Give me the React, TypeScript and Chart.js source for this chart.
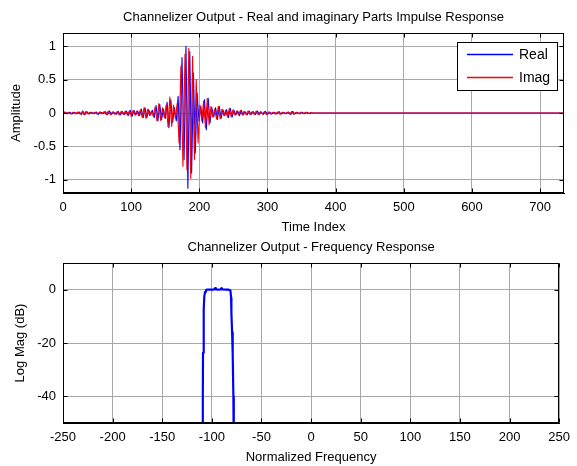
import React, { useEffect, useRef } from "react";
import { Chart, registerables } from "chart.js";

Chart.register(...registerables);

const FONT_FAMILY = "'Liberation Sans', Arial, sans-serif";

// ---------- Top subplot: impulse response ----------
const topTitle = "Channelizer Output - Real and imaginary Parts Impulse Response";
const timeTicks = [0, 100, 200, 300, 400, 500, 600, 700];
const ampTicks = [-1, -0.5, 0, 0.5, 1];

const realT = [
  0, 3, 6, 10, 13, 17, 20, 24, 27, 29, 32, 35, 38, 42, 45, 49, 52, 55, 59, 62, 65, 68, 71, 74, 78, 81, 84, 87, 90, 93, 96,
  98.7, 101.4, 104.1, 106.8, 109.5, 112.2, 114.9, 117.6, 120.3, 123.0, 125.7, 128.4, 131.1, 133.8, 136.5, 139.2, 141.9, 144.6, 147.3, 150.0, 152.7, 155.4, 158.1, 160.8, 163.5,
  166.2, 168.9, 171.6, 174.6, 177.6, 180.4, 183.2, 186.0, 188.7, 191.4, 194.1, 196.8, 199.5, 202.2,
  204.9, 207.6, 210.3, 213.0, 215.7, 218.4, 221.1, 223.8, 226.5, 229.2, 231.9, 234.6, 237.3, 240.0, 242.7, 245.4, 248.1, 250.8, 253.5, 256.2,
  258.9, 261.6, 264.3, 267, 270, 273, 276, 279, 282, 285, 288, 291, 294, 297, 300, 303, 306, 310, 313, 317,
  320, 324, 327, 331, 334, 337, 340, 344, 347, 351, 354, 358, 361, 365, 366, 735,
];
const realV = [
  0, 0.015, -0.01, 0.012, -0.015, 0.01, -0.012, 0.015, -0.02, 0.03, -0.025, 0.02, -0.015, 0.012, -0.01, 0.015, -0.02, 0.015, -0.012, 0.02, -0.025, 0.03, -0.02, 0.015, -0.02, 0.025, -0.03, 0.02, -0.025, 0.03, -0.035,
  0.04, -0.05, 0.04, -0.03, 0.03, -0.04, 0.06, -0.07, 0.08, -0.07, 0.05, -0.03, 0.04, -0.07, 0.11, -0.12, 0.13, -0.1, 0.06, -0.08, 0.16, -0.22, 0.2, -0.14, 0.08,
  -0.12, 0.25, -0.55, 0.83, -0.7, 1.0, -1.13, 0.92, -0.9, 0.6, -0.6, 0.3, -0.12, 0.1,
  -0.15, 0.2, -0.25, 0.22, -0.15, 0.08, -0.06, 0.08, -0.1, 0.1, -0.08, 0.05, -0.04, 0.05, -0.07, 0.07, -0.06, 0.04, -0.03, 0.03,
  -0.04, 0.04, -0.03, 0.02, -0.03, 0.03, -0.02, 0.02, -0.025, 0.03, -0.02, 0.015, -0.02, 0.025, -0.02, 0.015, -0.015, 0.012, -0.015, 0.02,
  -0.015, 0.01, -0.012, 0.015, -0.02, 0.025, -0.015, 0.01, -0.012, 0.01, -0.01, 0.012, -0.01, 0.005, 0, 0,
];

const imagT = [
  0, 1.5, 4.5, 7.5, 11.5, 14.5, 18.5, 21.5, 25.5, 28.5, 30.5, 33.5, 36.5, 39.5, 43.5, 46.5, 50.5, 53.5, 56.5, 60.5, 63.5, 66.5, 69.5, 72.5, 75.5, 79.5, 82.5, 85.5, 88.5, 91.5, 94.5, 97.4,
  100.05, 102.75, 105.45, 108.15, 110.85, 113.55, 116.25, 118.95, 121.65, 124.35, 127.05, 129.75, 132.45, 135.15, 137.85, 140.55, 143.25, 145.95, 148.65, 151.35, 154.05, 156.75, 159.45, 162.15, 164.85,
  167.55, 170.25, 172.95, 175.95, 178.95, 181.75, 184.55, 187.35, 190.05, 192.75, 195.45, 198.15, 200.85,
  203.55, 206.25, 208.95, 211.65, 214.35, 217.05, 219.75, 222.45, 225.15, 227.85, 230.55, 233.25, 235.95, 238.65, 241.35, 244.05, 246.75, 249.45, 252.15, 254.85,
  257.55, 260.25, 262.95, 265.65, 268.5, 271.5, 274.5, 277.5, 280.5, 283.5, 286.5, 289.5, 292.5, 295.5, 298.5, 301.5, 304.5, 308, 311.5, 315,
  318.5, 322, 325.5, 329, 332.5, 335.5, 338.5, 342, 345.5, 349, 352.5, 356, 359.5, 363, 366, 735,
];
const imagV = [
  0, 0.01, -0.012, 0.01, -0.015, 0.012, -0.012, 0.015, -0.018, 0.025, -0.025, 0.02, -0.015, 0.012, -0.012, 0.012, -0.018, 0.015, -0.012, 0.018, -0.025, 0.028, -0.025, 0.018, -0.018, 0.022, -0.028, 0.025, -0.022, 0.028, -0.032, 0.035,
  -0.05, 0.04, -0.03, 0.03, -0.04, 0.05, -0.07, 0.08, -0.08, 0.06, -0.04, 0.03, -0.05, 0.09, -0.12, 0.14, -0.11, 0.08, -0.07, 0.12, -0.2, 0.24, -0.2, 0.12, -0.08,
  0.15, -0.45, 0.7, -0.8, 0.88, -0.85, 0.97, -0.98, 0.85, -0.7, 0.5, -0.45, 0.12,
  -0.12, 0.18, -0.22, 0.22, -0.18, 0.1, -0.06, 0.06, -0.09, 0.1, -0.09, 0.06, -0.04, 0.04, -0.06, 0.07, -0.06, 0.05, -0.03, 0.03,
  -0.03, 0.04, -0.03, 0.025, -0.02, 0.03, -0.025, 0.02, -0.02, 0.03, -0.025, 0.02, -0.015, 0.02, -0.025, 0.015, -0.015, 0.012, -0.015, 0.015,
  -0.02, 0.012, -0.01, 0.012, -0.015, 0.02, -0.02, 0.012, -0.01, 0.01, -0.012, 0.01, -0.01, 0.008, 0, 0,
];

// ---------- Bottom subplot: frequency response ----------
const bottomTitle = "Channelizer Output - Frequency Response";
const freqTicks = [-250, -200, -150, -100, -50, 0, 50, 100, 150, 200, 250];
const magTicks = [-40, -20, 0];
const freqX = [-109.4, -109.1, -108.9, -108.2, -107.6, -106.8, -105.9, -105.3, -102, -99, -97.5, -96.7, -96, -94, -91, -90.2, -89.4, -86, -83, -81.3, -80.6, -80.3, -79.6, -79.0, -78.3, -77.9];
const magDb = [-60, -40, -23.7, -7.5, -2.5, -0.8, -0.25, 0, 0, 0, 0.1, 0.6, 0.1, 0, 0.1, 0.6, 0.1, 0, 0, -0.3, -3, -8.7, -16, -24, -40, -60];

const W = 577;
const TOP_H = 236;
const BOT_H = 230;
const PLOT_LEFT = 63;
const PLOT_RIGHT = 564;
const GRID = "#a8a8a8";

const font = { family: FONT_FAMILY, size: 13, weight: "normal" as const };

const boxPlugin = {
  id: "matlabBox",
  afterDraw(chart: any) {
    const { ctx, chartArea: a, scales } = chart;
    const L = Math.round(a.left) + 0.5;
    const R = Math.round(a.right) - 0.5;
    const T = Math.round(a.top) + 0.5;
    const B = Math.round(a.bottom) - 0.5;
    ctx.save();
    ctx.strokeStyle = "#000";
    ctx.lineWidth = 1;
    ctx.strokeRect(L, T, R - L, B - T);
    const len = 4;
    ctx.beginPath();
    for (const t of scales.x.ticks) {
      const px = Math.round(scales.x.getPixelForValue(t.value)) + 0.5;
      ctx.moveTo(px, B);
      ctx.lineTo(px, B - len);
      ctx.moveTo(px, T);
      ctx.lineTo(px, T + len);
    }
    for (const t of scales.y.ticks) {
      const py = Math.round(scales.y.getPixelForValue(t.value)) + 0.5;
      ctx.moveTo(L, py);
      ctx.lineTo(L + len, py);
      ctx.moveTo(R, py);
      ctx.lineTo(R - len, py);
    }
    ctx.stroke();
    ctx.restore();
  },
};

const legendPlugin = {
  id: "boxLegend",
  afterDraw(chart: any) {
    const { ctx } = chart;
    const x0 = 457.5, y0 = 42.5, w = 100, h = 48;
    ctx.save();
    ctx.fillStyle = "#ffffff";
    ctx.fillRect(x0, y0, w, h);
    ctx.strokeStyle = "#000000";
    ctx.lineWidth = 1;
    ctx.strokeRect(x0, y0, w, h);
    const items = [
      { label: "Real", color: "#0000ff", y: 54.5 },
      { label: "Imag", color: "#ff0000", y: 77.5 },
    ];
    ctx.font = `14px ${FONT_FAMILY}`;
    ctx.textBaseline = "middle";
    ctx.textAlign = "left";
    for (const it of items) {
      ctx.beginPath();
      ctx.strokeStyle = it.color;
      ctx.lineWidth = 1.5;
      ctx.moveTo(467, it.y);
      ctx.lineTo(513, it.y);
      ctx.stroke();
      ctx.fillStyle = "#000000";
      ctx.fillText(it.label, 519, it.y + 1);
    }
    ctx.restore();
  },
};

function axis(
  min: number,
  max: number,
  ticks: number[],
  title: string,
  isX: boolean,
  size: number,
  titlePad: any
) {
  return {
    type: "linear",
    min,
    max,
    afterBuildTicks: (s: any) => {
      s.ticks = ticks.map((v) => ({ value: v }));
    },
    afterFit: (s: any) => {
      if (isX) s.height = size;
      else s.width = size;
    },
    grid: { color: GRID, lineWidth: 1, drawTicks: false },
    border: { display: true, color: "#000", width: 1 },
    ticks: {
      color: "#000",
      font,
      padding: 7,
      maxRotation: 0,
      autoSkip: false,
      callback: (v: any) => String(v),
    },
    title: { display: true, text: title, color: "#000", font, padding: titlePad },
  };
}

function ChartCanvas({ config, top, height }: { config: any; top: number; height: number }) {
  const ref = useRef<HTMLCanvasElement>(null);
  useEffect(() => {
    const chart = new Chart(ref.current as HTMLCanvasElement, config);
    return () => chart.destroy();
  }, []);
  return (
    <canvas
      ref={ref}
      width={W}
      height={height}
      style={{ position: "absolute", left: 0, top, width: W, height }}
    />
  );
}

const topConfig: any = {
  type: "line",
  data: {
    datasets: [
      {
        label: "Real",
        data: realT.map((t, i) => ({ x: t, y: realV[i] })),
        borderColor: "#0000ff",
        borderWidth: 1.1,
        pointRadius: 0,
        borderJoinStyle: "round",
        order: 1,
      },
      {
        label: "Imag",
        data: imagT.map((t, i) => ({ x: t, y: imagV[i] })),
        borderColor: "#ff0000",
        borderWidth: 1.1,
        pointRadius: 0,
        borderJoinStyle: "round",
        order: 0,
      },
    ],
  },
  options: {
    animation: false,
    responsive: false,
    events: [],
    layout: { padding: { left: 0, right: W - PLOT_RIGHT, top: 0, bottom: 0 } },
    plugins: {
      legend: { display: false },
      tooltip: { enabled: false },
      title: {
        display: true,
        fullSize: false,
        text: topTitle,
        color: "#000",
        font,
        padding: { top: 9.2, bottom: 8.2 },
      },
    },
    scales: {
      x: axis(0, 735, timeTicks, "Time Index", true, TOP_H - 193, { top: 0, bottom: 1.2 }),
      y: axis(-1.2, 1.2, ampTicks, "Amplitude", false, PLOT_LEFT, { top: 8.2, bottom: 0 }),
    },
  },
  plugins: [boxPlugin, legendPlugin],
};

const bottomConfig: any = {
  type: "line",
  data: {
    datasets: [
      {
        label: "Mag",
        data: freqX.map((f, i) => ({ x: f, y: magDb[i] })),
        borderColor: "#0000ff",
        borderWidth: 2.2,
        pointRadius: 0,
        borderJoinStyle: "round",
      },
    ],
  },
  options: {
    animation: false,
    responsive: false,
    events: [],
    layout: { padding: { left: 0, right: W - PLOT_RIGHT, top: 0, bottom: 0 } },
    plugins: {
      legend: { display: false },
      tooltip: { enabled: false },
      title: {
        display: true,
        fullSize: false,
        text: bottomTitle,
        color: "#000",
        font,
        padding: { top: 3.2, bottom: 8.2 },
      },
    },
    scales: {
      x: axis(-250, 250, freqTicks, "Normalized Frequency", true, BOT_H - 187, { top: 0, bottom: 1.2 }),
      y: axis(-50, 10, magTicks, "Log Mag (dB)", false, PLOT_LEFT, { top: 12.2, bottom: 0 }),
    },
  },
  plugins: [boxPlugin],
};

export default function App() {
  return (
    <div style={{ position: "absolute", left: 0, top: 0, width: W, height: 466, background: "#fff" }}>
      <ChartCanvas config={topConfig} top={0} height={TOP_H} />
      <ChartCanvas config={bottomConfig} top={TOP_H} height={BOT_H} />
    </div>
  );
}
